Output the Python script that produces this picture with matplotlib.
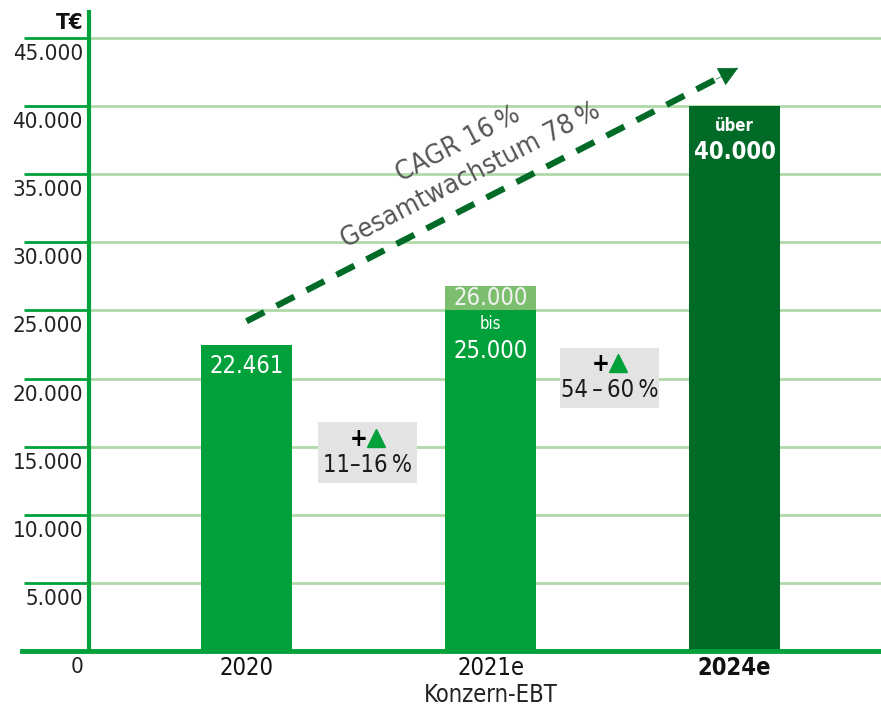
import matplotlib.pyplot as plt
import matplotlib.transforms as mtransforms
from matplotlib.lines import Line2D

# Konzern-EBT in T€
years = ["2020", "2021e", "2024e"]
ebt_low = [22461, 25000, 40000]
ebt_high = [22461, 26000, 40000]
y_ticks = [0, 5000, 10000, 15000, 20000, 25000, 30000, 35000, 40000, 45000]
y_tick_labels = ["0", "5.000", "10.000", "15.000", "20.000", "25.000",
                 "30.000", "35.000", "40.000", "45.000"]
growth_labels = ["11\u201316\u2009%", "54\u2009\u2013\u200960\u2009%"]
cagr_text = "CAGR 16\u2009%"
total_text = "Gesamtwachstum 78\u2009%"
trend_start = (0.0, 24200)
trend_end = (2.015, 42800)

GREEN = "#00A03A"
DARK_GREEN = "#006A27"
LIGHT_GREEN = "#7BBF6E"
GRID_GREEN = "#AFD9A7"
GREY_BOX = "#E3E3E3"

plt.rcParams['font.family'] = ['DejaVu Sans']
plt.rcParams['font.stretch'] = 'condensed'


def fmt(v):
    return f"{v:,}".replace(",", ".")


def offset(dx, dy):
    # shift in pixels at 100 dpi
    return mtransforms.ScaledTranslation(dx / 100, dy / 100, fig.dpi_scale_trans)


fig = plt.figure(figsize=(8.81, 7.08), dpi=100)
ax = fig.add_axes([89 / 881, 57 / 708, 1 - 89 / 881, 639 / 708])
ax.set_xlim(-0.6455, 2.6)
ax.set_ylim(0, 46900)

x = [0, 1, 2]
bar_w = 0.373
colors = [GREEN, GREEN, DARK_GREEN]

# gridlines (light inside, darker tick extension on the left)
for v in y_ticks[1:]:
    ax.axhline(v, color=GRID_GREEN, lw=2, zorder=0)
ax.set_yticks(y_ticks)
ax.set_yticklabels([])
ax.tick_params(axis='y', length=47, width=2, color=GREEN, direction='out')
ax.set_xticks([])
for s in ["top", "right", "bottom"]:
    ax.spines[s].set_visible(False)
ax.spines["left"].set_color(GREEN)
ax.spines["left"].set_linewidth(3)

# zero line
ax.add_line(Line2D([-0.085, 1], [0, 0], transform=ax.get_yaxis_transform(),
                   color=GREEN, lw=3.5, clip_on=False, zorder=3))

# y tick labels sit just below each gridline
for v, lab in zip(y_ticks, y_tick_labels):
    ax.text(0, v, lab, transform=ax.get_yaxis_transform() + offset(-6, -6),
            ha="right", va="top", fontsize=16, color="#222222")
ax.text(0, 1, "T€", transform=ax.transAxes + offset(-5, -1),
        ha="right", va="top", fontsize=16, fontweight="bold", color="#111111")

# bars
ax.bar(x, ebt_low, width=bar_w, color=colors, zorder=2)
# lighter cap holding the upper range label of 2021e
ax.bar(x[1], 1800, bottom=ebt_low[1], width=bar_w, color=LIGHT_GREEN, zorder=2)

ax.text(x[0], ebt_low[0], fmt(ebt_low[0]), transform=ax.transData + offset(0, -21),
        ha="center", va="center", fontsize=17, color="white")
ax.text(x[1], ebt_low[1], fmt(ebt_high[1]), transform=ax.transData + offset(0, 12),
        ha="center", va="center", fontsize=17, color="#F2F2F2")
ax.text(x[1], ebt_low[1], "bis", transform=ax.transData + offset(0, -14),
        ha="center", va="center", fontsize=12, color="white")
ax.text(x[1], ebt_low[1], fmt(ebt_low[1]), transform=ax.transData + offset(0, -41),
        ha="center", va="center", fontsize=17, color="white")
ax.text(x[2], ebt_low[2], "über", transform=ax.transData + offset(0, -20),
        ha="center", va="center", fontsize=12, fontweight="bold", color="white")
ax.text(x[2], ebt_low[2], fmt(ebt_low[2]), transform=ax.transData + offset(0, -46),
        ha="center", va="center", fontsize=17, fontweight="bold", color="white")

# x labels
for xi, yr in zip(x, years):
    ax.text(xi, 0, yr, transform=ax.get_xaxis_transform() + offset(0, -17),
            ha="center", va="center", fontsize=17,
            fontweight="bold" if yr == "2024e" else "normal", color="#111111")
ax.text(x[1], 0, "Konzern-EBT", transform=ax.get_xaxis_transform() + offset(0, -44),
        ha="center", va="center", fontsize=17, color="#222222")

# growth boxes between the bars
box_pos = [(0.496, 14550), (1.488, 20050)]
for (bx, by), txt in zip(box_pos, growth_labels):
    ax.bar(bx, 4450, bottom=by - 2225, width=99 / 244, color=GREY_BOX, zorder=1.5)
    ax.text(bx, by, txt, transform=ax.transData + offset(0, -12),
            ha="center", va="center", fontsize=17, color="#1A1A1A", zorder=3)
    ax.text(bx - 0.035, by, "+", transform=ax.transData + offset(0, 14),
            ha="center", va="center", fontsize=17, fontweight="bold", color="black", zorder=3)
    ax.plot([bx + 0.035], [by], marker="^", ms=13, color=GREEN, mec=GREEN, zorder=3,
            transform=ax.transData + offset(0, 15))

# dashed trend line with a solid head
frac = 0.955
mid = (trend_start[0] + frac * (trend_end[0] - trend_start[0]),
       trend_start[1] + frac * (trend_end[1] - trend_start[1]))
ax.plot([trend_start[0], mid[0]], [trend_start[1], mid[1]], color=DARK_GREEN,
        lw=4.5, linestyle=(0, (3.2, 2.2)), solid_capstyle="butt", zorder=4)
ax.annotate("", xy=trend_end, xytext=mid,
            arrowprops=dict(arrowstyle="-|>,head_length=1.3,head_width=0.65", color=DARK_GREEN,
                            lw=0.5, shrinkA=0, shrinkB=0),
            zorder=4)
ang = 27.3
ax.text(0.867, 37200, cagr_text, rotation=ang, rotation_mode="anchor", ha="center", va="center",
        fontsize=19.5, color="#555555")
ax.text(0.92, 34870, total_text, rotation=ang, rotation_mode="anchor", ha="center", va="center",
        fontsize=19.5, color="#555555")

fig.savefig("out.png", dpi=100)
